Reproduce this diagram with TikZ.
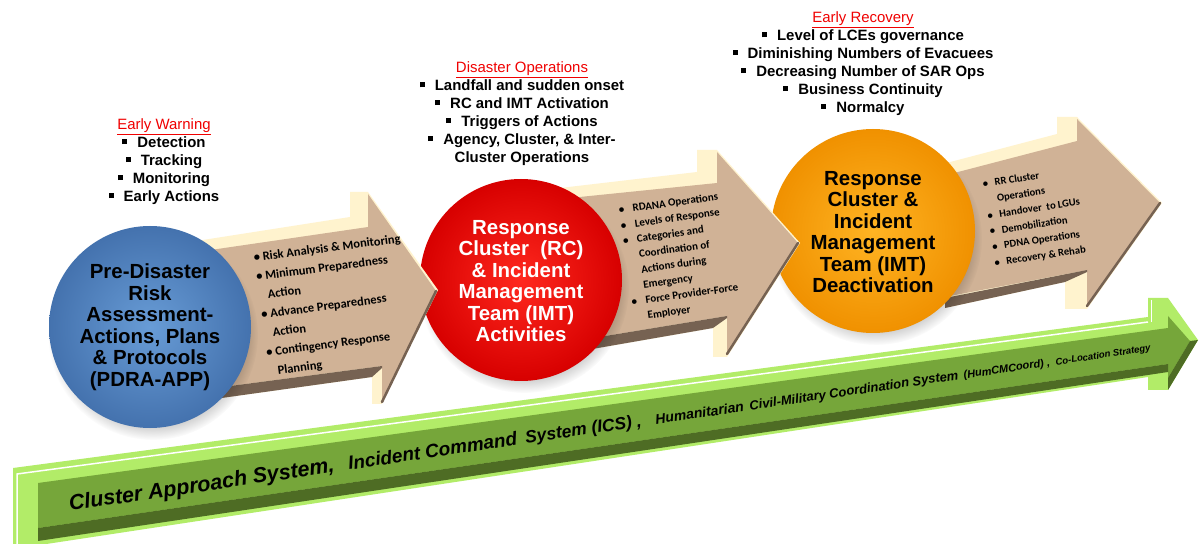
\documentclass[tikz,border=0pt]{standalone}
\usepackage{fontspec}
\setmainfont{Liberation Sans}
\newfontfamily\calibri{Carlito}
\usetikzlibrary{fadings}
\definecolor{tanF}{RGB}{208,178,150}
\definecolor{creamF}{RGB}{255,243,206}
\definecolor{brownD}{RGB}{118,98,82}
\definecolor{greenF}{RGB}{118,166,58}
\definecolor{greenL}{RGB}{178,236,104}
\definecolor{greenD}{RGB}{78,108,36}
\definecolor{blueL}{RGB}{104,156,214}
\definecolor{blueD}{RGB}{68,114,174}
\definecolor{redL}{RGB}{255,40,30}
\definecolor{redD}{RGB}{215,0,0}
\definecolor{orL}{RGB}{255,180,35}
\definecolor{orD}{RGB}{240,145,0}
\definecolor{hdrred}{RGB}{240,0,0}
\newcommand{\sqb}{\raisebox{3.2bp}{\rule{5bp}{5bp}}\hspace{10bp}}
\newcommand{\bl}[1]{\makebox[#1][l]{\textbullet}}
\tikzset{
  listtxt/.style={align=center, inner sep=0, font=\bfseries\fontsize{15}{18}\selectfont},
  circtxt/.style={align=center, inner sep=0, font=\bfseries\fontsize{20.5}{21.6}\selectfont},
  arrtxt/.style={align=left, inner sep=0, anchor=north west},
  grntxt/.style={anchor=base west, inner sep=0, rotate=8.4},
  facebox/.style={fill=tanF},
  creambox/.style={fill=creamF},
  bandbox/.style={fill=brownD},
  edgeline/.style={draw=brownD, line width=2.5bp, line cap=round},
  csh/.style={fill=black, opacity=0.28, path fading=circle with fuzzy edge 20 percent}
}
\begin{document}
\begin{tikzpicture}[x=1bp,y=-1bp]
\fill[white] (0,0) rectangle (1202,544);
\useasboundingbox (0,0) rectangle (1202,544);

% ---------------- green arrow ----------------
\fill[greenL] (13,468) -- (1148,317) -- (1148,298) -- (1168,298) -- (1198,340) -- (1168,390) -- (1148,390) -- (1148,377) -- (20,548) -- (13,548) -- cycle;
\fill[greenF] (38,483) -- (1168,328) -- (1168,316) -- (1190,341) -- (1168,378) -- (1168,364) -- (38,528) -- cycle;
\fill[greenD] (38,528) -- (1168,364) -- (1168,372) -- (38,541) -- cycle;
\fill[greenD] (1190,341) -- (1198,340) -- (1168,390) -- (1168,378) -- cycle;
\draw[white, line width=1.5bp] (17,546) -- (17,474) -- (1148,322);
\draw[white, line width=1bp] (1151,300) -- (1151,322);

\node[grntxt, font=\bfseries\itshape\fontsize{21.5}{24}\selectfont] (g1) at (70,511) {Cluster Approach System,};
\node[grntxt, font=\bfseries\itshape\fontsize{19}{22}\selectfont] (g2) at (349,469.8) {Incident Command};
\node[grntxt, font=\bfseries\itshape\fontsize{17.5}{20}\selectfont] (g3) at (526,443.5) {System (ICS) ,};
\node[grntxt, font=\bfseries\itshape\fontsize{14}{16}\selectfont] (g4) at (656,424.3) {Humanitarian};
\node[grntxt, font=\bfseries\itshape\fontsize{13}{15}\selectfont] (g5) at (750,410.3) {Civil-Military Coordination System};
\node[grntxt, font=\bfseries\itshape\fontsize{11}{13}\selectfont] (g6) at (964,378.7) {(HumCMCoord) ,};
\node[grntxt, font=\bfseries\itshape\fontsize{9.5}{11}\selectfont] (g7) at (1056,365.1) {Co-Location Strategy};

% ---------------- arrow 3 ----------------
\fill[creambox] (935,166) -- (1057,134) -- (1057,117) -- (1077,117) -- (1162,203) -- (1087,309) -- (1065,309) -- (1065,282) -- (945,308) -- cycle;
\fill[facebox] (935,178) -- (1077,141) -- (1077,119) -- (1160,203) -- (1087,306) -- (1087,270) -- (950,296) -- cycle;
\fill[bandbox] (945,298) -- (1087,270) -- (1087,272) -- (1065,282) -- (945,308) -- cycle;
\draw[edgeline] (1160,203) -- (1087,306);
\node[arrtxt, rotate=8.5, font=\calibri\bfseries\fontsize{10.6}{16}\selectfont] (t3) at (982,180)
 {\bl{12bp}RR Cluster\\\hspace*{12bp}Operations\\\bl{12bp}Handover~ to LGUs\\\bl{12bp}Demobilization\\\bl{12bp}PDNA Operations\\\bl{12bp}Recovery \& Rehab};

% orange circle
\fill[csh] (876,239) circle (106);
\shade[inner color=orL, outer color=orD] (873,231) circle (102);
\node[circtxt] (c3) at (873,232) {Response\\Cluster \&\\Incident\\Management\\Team (IMT)\\Deactivation};

% ---------------- arrow 2 ----------------
\fill[creambox] (560,188) -- (697,172) -- (697,150) -- (717,150) -- (800,243) -- (727,357) -- (713,357) -- (713,328) -- (575,352) -- cycle;
\fill[facebox] (560,199) -- (717,183) -- (717,152) -- (798,243) -- (727,354) -- (727,316) -- (575,341) -- cycle;
\fill[bandbox] (575,341) -- (727,316) -- (727,318) -- (713,328) -- (575,352) -- cycle;
\draw[edgeline] (798,243) -- (727,354);
\node[arrtxt, rotate=8, font=\calibri\bfseries\fontsize{11}{15.5}\selectfont] (t2) at (618,206)
 {\bl{14bp}RDANA Operations\\\bl{14bp}Levels of Response\\\bl{14bp}Categories and\\\hspace*{14bp}Coordination of\\\hspace*{14bp}Actions during\\\hspace*{14bp}Emergency\\\bl{14bp}Force Provider-Force\\\hspace*{14bp}Employer};

% red circle
\fill[csh] (524,288) circle (105);
\shade[inner color=redL, outer color=redD] (521,280) circle (101);
\node[circtxt, text=white] (c2) at (521,281) {Response\\Cluster~ (RC)\\\& Incident\\Management\\Team (IMT)\\Activities};

% ---------------- arrow 1 ----------------
\fill[creambox] (190,242) -- (350,217) -- (350,192) -- (368,192) -- (438,290) -- (382,404) -- (372,404) -- (372,377) -- (200,401) -- cycle;
\fill[facebox] (190,253) -- (368,227) -- (368,194) -- (436,291) -- (382,402) -- (382,366) -- (200,390) -- cycle;
\fill[bandbox] (200,390) -- (382,366) -- (382,368) -- (372,377) -- (200,401) -- cycle;
\draw[edgeline] (436,291) -- (382,402);
\node[arrtxt, rotate=7.5, font=\calibri\bfseries\fontsize{12.5}{19.2}\selectfont] (t1) at (253,253)
 {\bl{9bp}Risk Analysis \& Monitoring\\\bl{9bp}Minimum Preparedness\\\hspace*{9bp}Action\\\bl{9bp}Advance Preparedness\\\hspace*{9bp}Action\\\bl{9bp}Contingency Response\\\hspace*{9bp}Planning};

% blue circle
\fill[csh] (153,335) circle (105);
\shade[inner color=blueL, outer color=blueD] (150,327) circle (101);
\node[circtxt] (c1) at (150,327) {Pre-Disaster\\Risk\\Assessment-\\Actions, Plans\\\& Protocols\\(PDRA-APP)};

% ---------------- top lists ----------------
\node[listtxt] (ew) at (164,161.5) {\textcolor{hdrred}{\mdseries\underline{Early Warning}}\\\sqb Detection\\\sqb Tracking\\\sqb Monitoring\\\sqb Early Actions};
\node[listtxt] (do) at (522,113.5) {\textcolor{hdrred}{\mdseries\underline{Disaster Operations}}\\\sqb Landfall and sudden onset\\\sqb RC and IMT Activation\\\sqb Triggers of Actions\\\sqb Agency, Cluster, \& Inter-\\Cluster Operations};
\node[listtxt] (er) at (863,63.5) {\textcolor{hdrred}{\mdseries\underline{Early Recovery}}\\\sqb Level of LCEs governance\\\sqb Diminishing Numbers of Evacuees\\\sqb Decreasing Number of SAR Ops\\\sqb Business Continuity\\\sqb Normalcy};
\end{tikzpicture}
\end{document}
